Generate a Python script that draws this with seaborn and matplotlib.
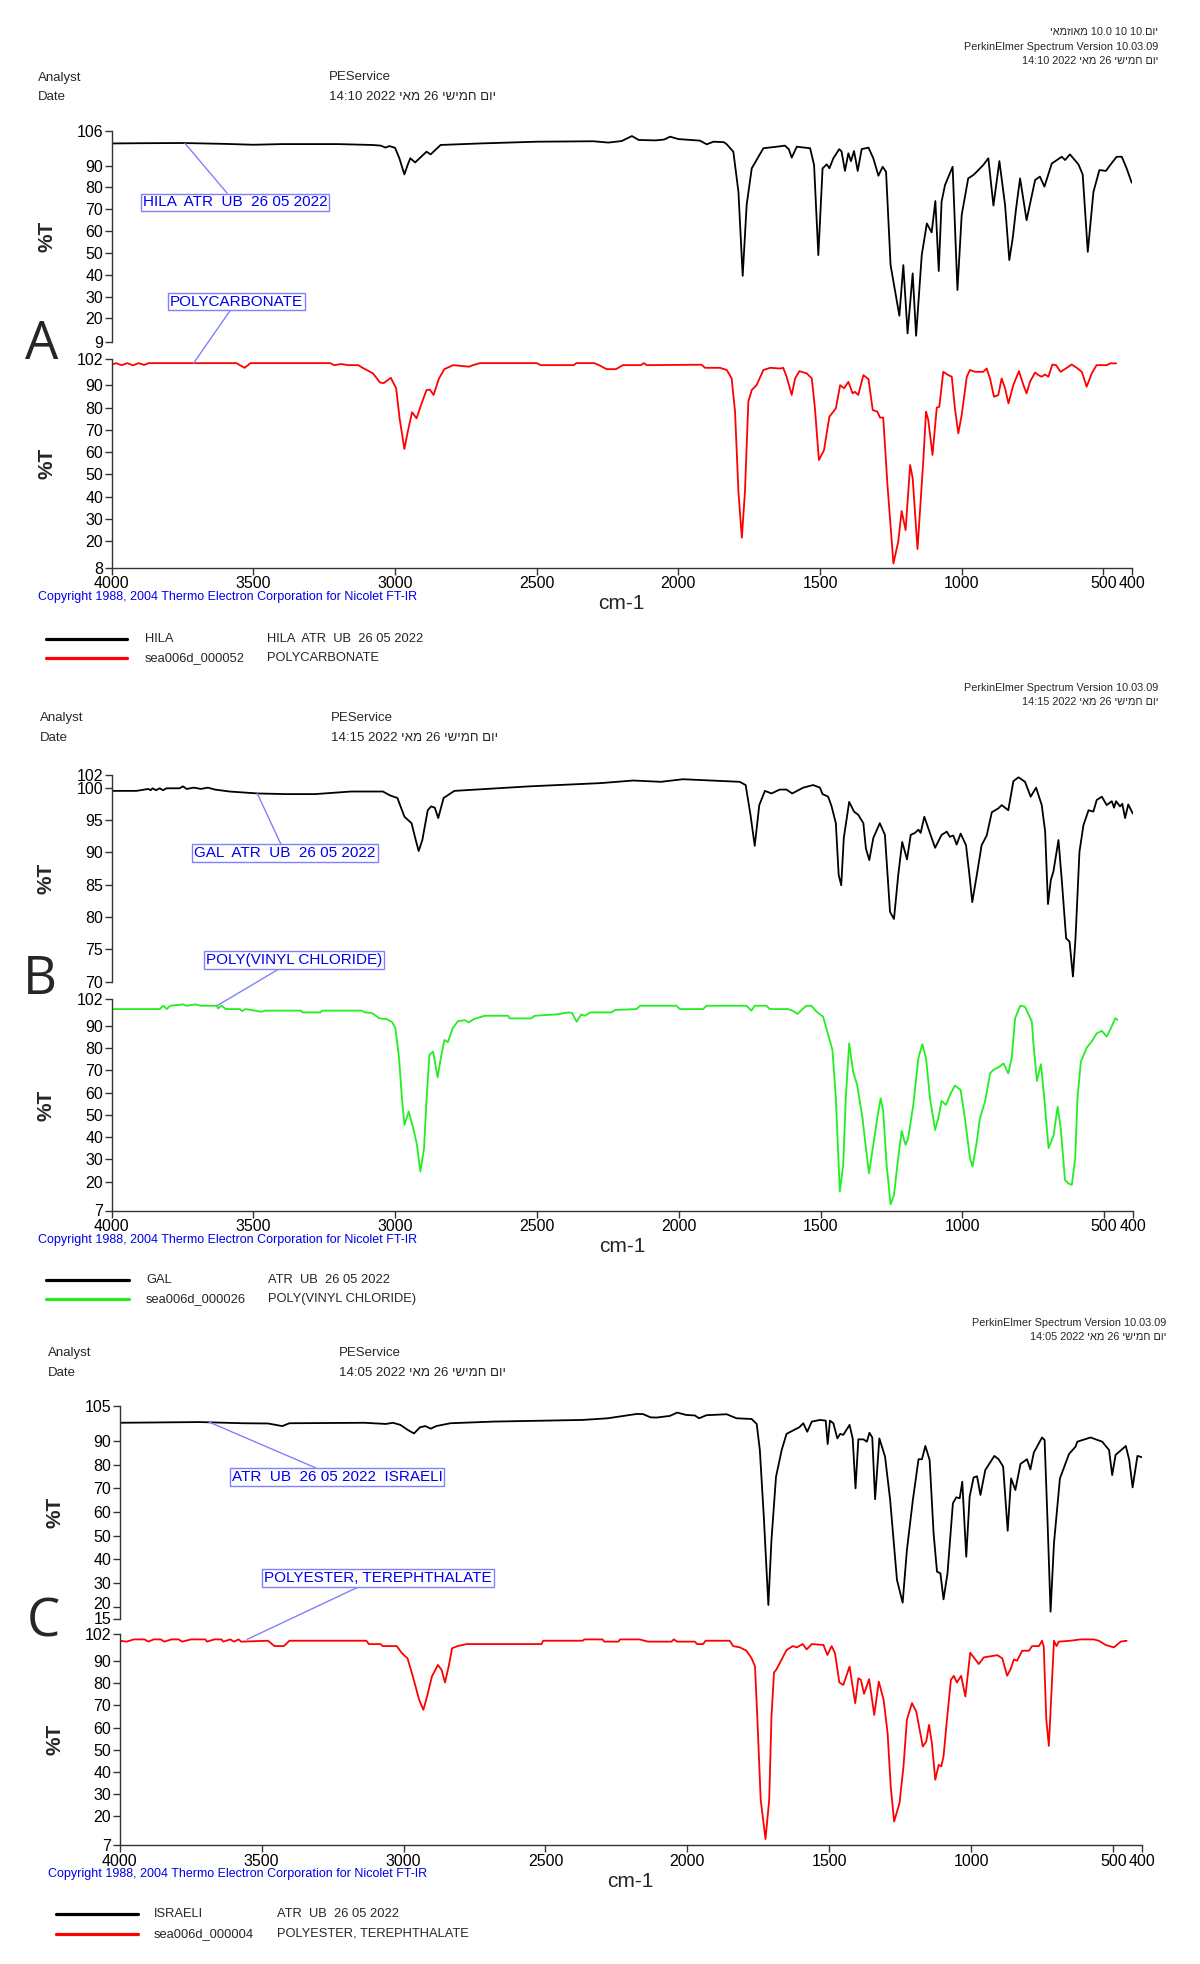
import matplotlib
matplotlib.use("Agg")
import matplotlib.pyplot as plt
from matplotlib.lines import Line2D
from matplotlib.transforms import ScaledTranslation
import seaborn as sns

# ---------------- DATA (wavenumber cm-1, %T) ----------------
XTICKS = [4000, 3500, 3000, 2500, 2000, 1500, 1000, 500, 400]

A_TOP_YTICKS = [106, 90, 80, 70, 60, 50, 40, 30, 20, 9]
A_BOT_YTICKS = [102, 90, 80, 70, 60, 50, 40, 30, 20, 8]
B_TOP_YTICKS = [102, 100, 95, 90, 85, 80, 75, 70]
B_BOT_YTICKS = [102, 90, 80, 70, 60, 50, 40, 30, 20, 7]
C_TOP_YTICKS = [105, 90, 80, 70, 60, 50, 40, 30, 20, 15]
C_BOT_YTICKS = [102, 90, 80, 70, 60, 50, 40, 30, 20, 7]

hila_w = [4000, 3900, 3750, 3600, 3500, 3400, 3200, 3080, 3050, 3034, 3020, 3000, 2985, 2967, 2955, 2946, 2929, 2889, 2874, 2858, 2839, 2700, 2500, 2300, 2247, 2200, 2164, 2140, 2080, 2050, 2029, 2000, 1924, 1900, 1876, 1840, 1829, 1806, 1788, 1773, 1759, 1741, 1700, 1653, 1624, 1610, 1600, 1582, 1535, 1521, 1506, 1491, 1476, 1467, 1453, 1432, 1424, 1412, 1400, 1391, 1380, 1367, 1353, 1329, 1312, 1294, 1279, 1267, 1251, 1220, 1206, 1191, 1173, 1161, 1141, 1123, 1106, 1093, 1081, 1071, 1059, 1032, 1015, 1000, 977, 959, 947, 924, 906, 888, 867, 847, 832, 820, 808, 794, 771, 741, 724, 708, 682, 647, 635, 618, 588, 573, 555, 535, 514, 491, 476, 453, 435, 418, 400]
hila_t = [100.2, 100.3, 100.4, 100.0, 99.6, 99.9, 99.9, 99.5, 99.2, 98.3, 99.0, 98.2, 93.5, 86.0, 90.5, 93.4, 91.5, 96.4, 95.2, 97.2, 99.5, 100.2, 101.0, 101.2, 100.6, 101.3, 103.6, 101.8, 101.6, 102.0, 103.3, 102.2, 101.5, 99.8, 101.0, 100.8, 99.8, 96.4, 78.0, 39.5, 72.0, 88.8, 98.0, 98.7, 99.2, 97.5, 93.7, 98.7, 98.0, 90.3, 49.0, 88.8, 90.6, 88.8, 93.4, 97.6, 96.5, 87.6, 95.7, 92.1, 96.7, 87.6, 97.6, 98.3, 93.4, 85.4, 89.5, 87.2, 44.4, 21.2, 44.4, 13.1, 40.6, 12.0, 49.0, 63.5, 59.4, 73.8, 41.7, 73.5, 81.1, 89.5, 33.0, 67.4, 84.2, 85.7, 87.2, 90.3, 93.4, 71.7, 92.1, 72.0, 46.7, 56.7, 70.4, 84.2, 65.0, 83.4, 85.0, 80.4, 91.0, 94.1, 92.6, 95.2, 90.6, 86.0, 50.5, 78.0, 88.0, 87.6, 90.3, 94.1, 94.1, 88.8, 82.2]

pc_w = [4000, 3985, 3965, 3945, 3925, 3905, 3885, 3870, 3560, 3531, 3510, 3229, 3215, 3190, 3165, 3130, 3110, 3078, 3053, 3040, 3015, 2996, 2984, 2967, 2955, 2940, 2924, 2908, 2889, 2877, 2864, 2845, 2826, 2795, 2738, 2725, 2700, 2500, 2486, 2370, 2360, 2297, 2280, 2253, 2220, 2196, 2133, 2121, 2112, 1918, 1906, 1853, 1829, 1812, 1800, 1788, 1776, 1765, 1753, 1741, 1724, 1700, 1676, 1641, 1630, 1618, 1600, 1588, 1573, 1547, 1529, 1518, 1504, 1486, 1467, 1444, 1429, 1415, 1400, 1385, 1377, 1365, 1347, 1329, 1314, 1298, 1288, 1277, 1262, 1241, 1224, 1212, 1198, 1182, 1173, 1156, 1135, 1126, 1118, 1103, 1088, 1079, 1065, 1047, 1035, 1024, 1012, 1000, 982, 971, 953, 924, 912, 900, 886, 871, 859, 847, 835, 818, 798, 782, 771, 759, 741, 729, 718, 706, 694, 680, 667, 651, 629, 612, 594, 576, 559, 541, 524, 488, 476, 455]
pc_t = [99.3, 100.0, 99.1, 100.0, 99.0, 100.0, 99.2, 100.0, 100.0, 97.9, 100.0, 100.0, 99.1, 99.6, 99.1, 99.1, 97.6, 95.4, 91.3, 91.0, 93.4, 88.7, 75.2, 61.4, 69.2, 77.9, 75.2, 81.2, 87.9, 88.1, 85.7, 93.1, 97.3, 99.1, 98.4, 99.1, 100.0, 100.0, 99.1, 99.1, 100.0, 100.0, 99.1, 97.3, 97.3, 99.1, 99.1, 100.0, 99.1, 99.3, 97.9, 97.9, 96.9, 93.1, 78.2, 42.2, 21.5, 42.2, 82.7, 87.9, 90.1, 96.9, 97.9, 97.6, 97.9, 93.9, 85.7, 93.1, 96.4, 95.4, 93.1, 79.7, 56.4, 60.9, 75.9, 79.7, 90.1, 88.7, 91.6, 86.4, 87.1, 85.7, 94.6, 92.8, 78.9, 78.2, 75.5, 75.5, 45.2, 9.9, 19.7, 33.5, 24.9, 54.2, 48.2, 16.4, 57.2, 78.2, 74.4, 58.7, 80.0, 80.4, 96.1, 94.6, 93.9, 79.7, 68.4, 76.7, 93.9, 96.9, 96.1, 96.1, 97.6, 93.1, 84.9, 85.6, 93.1, 88.7, 81.9, 90.1, 96.4, 90.1, 86.4, 91.6, 95.8, 94.6, 93.9, 94.9, 93.9, 99.4, 99.1, 96.1, 97.9, 99.4, 97.9, 96.1, 89.4, 95.4, 99.1, 99.1, 99.9, 99.9]

gal_w = [4000, 3912, 3870, 3862, 3855, 3843, 3830, 3818, 3806, 3760, 3748, 3735, 3710, 3685, 3660, 3635, 3584, 3484, 3383, 3282, 3156, 3043, 3018, 2992, 2967, 2942, 2929, 2917, 2904, 2885, 2873, 2860, 2848, 2829, 2791, 2753, 2526, 2275, 2161, 2063, 1985, 1785, 1764, 1747, 1732, 1716, 1696, 1673, 1644, 1620, 1600, 1561, 1526, 1502, 1493, 1473, 1461, 1446, 1436, 1427, 1418, 1399, 1382, 1367, 1349, 1340, 1328, 1314, 1291, 1273, 1255, 1241, 1226, 1212, 1195, 1182, 1167, 1155, 1147, 1134, 1116, 1096, 1073, 1055, 1044, 1032, 1020, 1006, 987, 975, 965, 949, 932, 914, 896, 873, 861, 838, 820, 802, 779, 759, 740, 720, 708, 698, 688, 679, 661, 649, 634, 622, 610, 601, 587, 573, 555, 538, 526, 508, 491, 473, 465, 458, 444, 436, 426, 415, 399]
gal_t = [99.5, 99.5, 99.8, 99.6, 99.9, 99.6, 99.9, 99.6, 99.9, 99.9, 100.2, 99.8, 100.0, 99.8, 100.0, 99.7, 99.4, 99.1, 99.0, 99.0, 99.4, 99.4, 98.8, 98.4, 95.5, 94.5, 92.2, 90.2, 91.9, 96.5, 97.1, 96.9, 95.3, 98.4, 99.5, 99.6, 100.2, 100.7, 101.1, 100.9, 101.3, 100.9, 100.4, 95.8, 91.0, 97.3, 99.5, 99.1, 99.7, 99.7, 99.1, 100.0, 100.4, 100.0, 99.0, 98.6, 97.1, 94.5, 86.5, 84.9, 92.2, 97.8, 96.3, 95.8, 94.5, 90.6, 88.8, 92.2, 94.5, 92.7, 80.8, 79.7, 86.5, 91.6, 88.9, 92.7, 93.0, 93.5, 93.0, 95.5, 93.2, 90.7, 92.7, 93.2, 92.4, 92.6, 91.2, 92.9, 91.1, 86.5, 82.3, 86.5, 91.1, 92.6, 96.2, 96.8, 97.3, 96.5, 101.0, 101.6, 100.9, 98.6, 100.0, 97.3, 93.2, 82.0, 85.7, 87.0, 91.9, 85.5, 76.7, 76.2, 70.8, 76.7, 90.1, 94.2, 96.5, 96.3, 98.1, 98.6, 97.3, 97.9, 96.9, 97.9, 97.1, 97.5, 95.3, 97.4, 96.0]

pvc_w = [4000, 3830, 3817, 3805, 3793, 3748, 3735, 3704, 3685, 3628, 3625, 3612, 3597, 3547, 3540, 3527, 3471, 3458, 3333, 3326, 3263, 3257, 3118, 3105, 3081, 3055, 3030, 3011, 2999, 2986, 2976, 2967, 2952, 2936, 2923, 2911, 2898, 2889, 2879, 2866, 2850, 2839, 2826, 2814, 2797, 2778, 2753, 2741, 2722, 2684, 2602, 2596, 2520, 2508, 2432, 2388, 2376, 2360, 2344, 2331, 2312, 2237, 2224, 2149, 2136, 2008, 1996, 1914, 1902, 1761, 1744, 1732, 1691, 1679, 1614, 1596, 1581, 1561, 1549, 1532, 1514, 1491, 1473, 1458, 1446, 1432, 1420, 1411, 1399, 1385, 1371, 1352, 1340, 1329, 1314, 1300, 1288, 1279, 1267, 1253, 1241, 1229, 1214, 1200, 1191, 1173, 1155, 1141, 1128, 1114, 1096, 1085, 1073, 1058, 1041, 1026, 1006, 991, 973, 964, 949, 938, 920, 902, 891, 869, 855, 838, 826, 814, 796, 779, 755, 749, 737, 723, 711, 696, 678, 664, 653, 638, 626, 614, 602, 594, 582, 561, 544, 526, 508, 491, 476, 461, 453]
pvc_t = [97.6, 97.6, 99.1, 97.6, 99.1, 99.7, 99.1, 99.7, 99.1, 99.1, 97.9, 99.1, 97.6, 97.6, 96.7, 97.6, 96.4, 96.9, 96.9, 96.1, 96.1, 96.9, 96.9, 96.1, 95.8, 93.4, 93.1, 91.8, 89.0, 75.5, 57.5, 45.5, 51.5, 44.0, 36.5, 24.5, 35.0, 57.5, 77.0, 78.5, 66.9, 75.5, 83.7, 82.7, 89.0, 92.2, 92.6, 91.6, 93.1, 94.6, 94.6, 93.4, 93.4, 94.6, 95.2, 96.1, 95.8, 91.9, 95.2, 94.6, 96.1, 96.1, 97.2, 97.6, 99.1, 99.1, 97.6, 97.6, 99.1, 99.1, 96.9, 99.1, 99.1, 97.6, 97.6, 96.7, 95.4, 97.9, 99.1, 99.1, 96.4, 94.2, 86.0, 79.2, 57.5, 15.5, 27.5, 57.5, 82.2, 69.5, 63.5, 48.5, 35.0, 23.7, 36.5, 48.5, 57.5, 51.5, 27.5, 9.8, 14.0, 27.5, 42.8, 36.5, 39.5, 54.5, 75.5, 81.8, 75.5, 57.5, 43.2, 48.5, 56.3, 54.5, 59.7, 63.2, 61.2, 48.5, 30.5, 26.7, 38.0, 48.5, 56.0, 68.7, 70.2, 71.7, 73.2, 68.7, 75.5, 93.4, 99.1, 98.7, 92.0, 81.5, 65.3, 72.8, 57.5, 35.0, 41.0, 53.7, 44.0, 20.7, 19.2, 18.5, 30.5, 57.5, 74.0, 80.3, 83.0, 86.7, 87.8, 85.2, 89.0, 93.5, 92.7]

isr_w = [4000, 3717, 3565, 3477, 3427, 3402, 3137, 3062, 3037, 3011, 2984, 2963, 2942, 2923, 2904, 2885, 2835, 2684, 2369, 2281, 2180, 2157, 2130, 2109, 2062, 2036, 2004, 1974, 1959, 1933, 1862, 1827, 1774, 1756, 1745, 1731, 1715, 1704, 1688, 1668, 1651, 1621, 1606, 1592, 1578, 1562, 1533, 1513, 1506, 1498, 1486, 1472, 1462, 1451, 1429, 1418, 1408, 1398, 1380, 1368, 1359, 1349, 1339, 1324, 1304, 1286, 1262, 1242, 1227, 1206, 1186, 1174, 1162, 1147, 1133, 1121, 1109, 1098, 1084, 1065, 1053, 1041, 1032, 1018, 1006, 992, 980, 968, 951, 919, 904, 888, 872, 860, 845, 827, 804, 792, 780, 751, 742, 731, 721, 709, 688, 656, 633, 627, 580, 539, 515, 504, 492, 456, 444, 432, 415, 398]
isr_t = [97.7, 98.0, 97.5, 97.4, 96.3, 97.5, 97.7, 97.2, 97.7, 96.8, 94.6, 93.2, 95.8, 96.3, 95.2, 96.3, 97.5, 98.2, 98.9, 99.6, 101.4, 101.4, 100.0, 99.9, 100.6, 102.0, 101.0, 100.8, 99.6, 100.9, 101.3, 99.6, 99.3, 97.2, 86.2, 58.0, 20.7, 48.2, 74.9, 86.2, 93.0, 94.9, 95.8, 97.5, 93.9, 98.2, 98.9, 98.6, 88.7, 98.6, 97.5, 91.1, 93.0, 92.6, 96.8, 91.1, 70.0, 90.7, 90.7, 89.7, 93.5, 91.5, 65.4, 91.1, 83.4, 65.1, 31.3, 21.7, 43.9, 65.1, 82.3, 82.3, 87.9, 82.0, 51.0, 34.8, 34.1, 23.1, 34.1, 63.7, 66.2, 65.8, 72.8, 41.1, 66.5, 74.6, 75.1, 67.2, 77.7, 83.7, 82.3, 79.2, 52.1, 74.2, 69.3, 80.3, 82.3, 78.0, 85.1, 91.5, 90.4, 53.8, 17.9, 46.8, 74.2, 84.5, 87.6, 89.7, 91.5, 89.7, 86.2, 75.6, 84.1, 87.9, 82.0, 70.4, 83.7, 83.1]

pet_w = [4000, 3975, 3950, 3912, 3899, 3880, 3855, 3843, 3817, 3792, 3780, 3748, 3698, 3692, 3666, 3641, 3635, 3610, 3597, 3581, 3572, 3477, 3455, 3421, 3402, 3131, 3122, 3080, 3074, 3024, 3005, 2986, 2967, 2945, 2930, 2917, 2900, 2879, 2866, 2854, 2841, 2829, 2810, 2791, 2778, 2514, 2508, 2369, 2363, 2299, 2293, 2243, 2237, 2168, 2139, 2056, 2048, 2036, 1974, 1966, 1945, 1936, 1851, 1839, 1815, 1792, 1774, 1762, 1754, 1742, 1725, 1712, 1704, 1695, 1686, 1668, 1651, 1629, 1615, 1594, 1580, 1562, 1521, 1507, 1492, 1480, 1465, 1451, 1429, 1409, 1398, 1389, 1378, 1360, 1342, 1326, 1309, 1295, 1284, 1272, 1253, 1239, 1227, 1209, 1194, 1171, 1159, 1149, 1139, 1127, 1115, 1106, 1098, 1086, 1072, 1062, 1051, 1036, 1021, 1004, 986, 974, 956, 909, 891, 874, 862, 850, 839, 821, 797, 786, 762, 751, 745, 736, 727, 719, 709, 700, 692, 651, 616, 569, 551, 527, 498, 474, 453]
pet_t = [99.1, 98.7, 99.7, 99.7, 98.7, 99.7, 99.7, 98.7, 99.7, 99.7, 98.7, 99.7, 99.7, 98.7, 99.7, 99.7, 98.7, 99.7, 98.7, 99.7, 98.7, 99.1, 96.7, 96.7, 99.1, 99.1, 97.6, 97.6, 96.7, 96.7, 93.4, 91.2, 83.0, 72.5, 68.0, 74.0, 83.0, 88.2, 86.0, 80.3, 87.5, 95.7, 96.7, 97.2, 97.6, 97.6, 99.1, 99.1, 99.7, 99.7, 98.7, 98.7, 99.7, 99.7, 98.7, 98.7, 99.7, 98.7, 98.7, 97.6, 97.6, 99.1, 99.1, 96.7, 96.1, 94.6, 91.2, 87.5, 65.0, 27.5, 9.8, 27.5, 65.0, 84.8, 86.3, 90.7, 94.9, 96.7, 96.1, 97.6, 95.2, 97.6, 97.2, 92.7, 96.7, 93.4, 80.3, 79.2, 87.5, 71.0, 82.2, 81.5, 75.2, 81.8, 65.7, 80.7, 72.5, 57.5, 33.5, 17.7, 26.0, 42.5, 63.5, 71.0, 67.2, 51.5, 53.7, 61.2, 53.0, 36.5, 43.2, 42.5, 47.0, 63.5, 81.5, 83.3, 80.3, 83.3, 74.0, 93.7, 90.7, 88.6, 91.6, 92.6, 91.2, 83.3, 86.3, 90.7, 90.1, 94.6, 94.6, 96.7, 96.7, 99.1, 96.4, 63.5, 51.8, 72.5, 99.1, 96.7, 98.7, 99.1, 99.7, 99.7, 99.1, 97.2, 96.1, 98.7, 99.1]

# ---------------- STYLE ----------------
sns.set_style("white")
FONT = ['Liberation Sans', 'DejaVu Sans']
plt.rcParams['font.family'] = FONT

W, H = 1200, 1964
fig = plt.figure(figsize=(W / 100, H / 100), dpi=100)

BLUE = '#0000ee'
BOXBLUE = '#8080ff'


def add_ax(l, t, r, b):
    return fig.add_axes([l / W, 1 - b / H, (r - l) / W, (b - t) / H])


def style(ax, ylim, yticks, bottom):
    ax.set_xlim(4000, 400)
    ax.set_ylim(*ylim)
    ax.set_yticks(yticks)
    ax.set_yticklabels([str(t) for t in yticks])
    ax.patch.set_alpha(0)
    ax.grid(False)
    for s in ['top', 'right']:
        ax.spines[s].set_visible(False)
    ax.spines['left'].set_color('#333333')
    ax.spines['left'].set_linewidth(1.0)
    if bottom:
        ax.set_xticks(XTICKS)
        ax.set_xticklabels([str(t) for t in XTICKS])
        ax.spines['bottom'].set_color('#333333')
        ax.spines['bottom'].set_linewidth(1.0)
    else:
        ax.spines['bottom'].set_visible(False)
        ax.set_xticks([])
    ax.tick_params(axis='both', direction='out', length=5, width=1,
                   labelsize=11.5, pad=1, color='#333333', labelcolor='black',
                   left=True, bottom=bottom)
    ax.set_xlabel('')
    ax.set_ylabel('')


def txt(x, y, s, **kw):
    kw.setdefault('va', 'center')
    kw.setdefault('ha', 'left')
    fig.text(x / W, 1 - y / H, s, **kw)


def hline(x0, x1, y, color, lw=2.3):
    fig.add_artist(Line2D([x0 / W, x1 / W], [1 - y / H, 1 - y / H],
                          transform=fig.transFigure, color=color, lw=lw))


def annot(ax, s, w, v, px, py):
    ax.annotate(s, xy=(w, v), xycoords='data', xytext=(px, H - py),
                textcoords='figure pixels', ha='center', va='center',
                fontsize=11, color=BLUE, annotation_clip=False,
                bbox=dict(boxstyle='square,pad=0.12', fc='white', ec=BOXBLUE, lw=1),
                arrowprops=dict(arrowstyle='-', color=BOXBLUE, lw=1,
                                shrinkA=0, shrinkB=0))


def spectrum(ax, w, t, color):
    sns.lineplot(x=w, y=t, ax=ax, color=color, linewidth=1.3, sort=False,
                 estimator=None, legend=False)


def panel(letter, xl, xr, top_box, bot_box, top_ylim, top_ticks, bot_ylim, bot_ticks,
          top_data, bot_data, bot_color, header, annots, legend, letter_xy,
          lift_label=None):
    axt = add_ax(xl, top_box[0], xr, top_box[1])
    axb = add_ax(xl, bot_box[0], xr, bot_box[1])
    spectrum(axt, top_data[0], top_data[1], 'black')
    spectrum(axb, bot_data[0], bot_data[1], bot_color)
    style(axt, top_ylim, top_ticks, False)
    style(axb, bot_ylim, bot_ticks, True)
    if lift_label is not None:
        for lab in axt.get_yticklabels():
            if lab.get_text() == str(lift_label):
                lab.set_transform(lab.get_transform() +
                                  ScaledTranslation(0, 4 / 100, fig.dpi_scale_trans))
    for (t, b) in (top_box, bot_box):
        txt(xl - 65, (t + b) / 2, '%T', ha='center', rotation=90,
            fontsize=15, fontweight='bold')
    # x label and copyright
    txt((xl + xr) / 2, bot_box[1] + 36, 'cm-1', ha='center', fontsize=15)
    txt(header['cx'], bot_box[1] + 29,
        'Copyright 1988, 2004 Thermo Electron Corporation for Nicolet FT-IR',
        fontsize=9, color=BLUE)
    # header
    hx, hy = header['x'], header['y']
    txt(hx, hy, 'Analyst', fontsize=9.5)
    txt(hx, hy + 20, 'Date', fontsize=9.5)
    txt(hx + 291, hy, 'PEService', fontsize=9.5)
    txt(hx + 291, hy + 20, header['date'], fontsize=9.5)
    for i, line in enumerate(header['right']):
        txt(header['rx'], header['ry'][i], line, ha='right', fontsize=7.8)
    # annotations
    (s1, w1, v1, p1x, p1y), (s2, w2, v2, p2x, p2y) = annots
    annot(axt, s1, w1, v1, p1x, p1y)
    annot(axb, s2, w2, v2, p2x, p2y)
    # legend
    lx0, lx1, c1, c2, ly = legend['lx0'], legend['lx1'], legend['c1'], legend['c2'], legend['y']
    hline(lx0, lx1, ly[0], 'black')
    hline(lx0, lx1, ly[1], bot_color)
    for i in range(2):
        txt(c1, ly[i], legend['names'][i], fontsize=9.3)
        txt(c2, ly[i], legend['descs'][i], fontsize=9.3)
    # panel letter
    txt(letter_xy[0], letter_xy[1], letter, ha='center', fontsize=38,
        family=['Open Sans', 'DejaVu Sans'])


RED = '#ff0000'
GREEN = '#22ee22'

# Panel A
panel('A', 111.7, 1131.7, (130.8, 342.3), (358.7, 567.7),
      (9, 106), A_TOP_YTICKS, (8, 102), A_BOT_YTICKS,
      (hila_w, hila_t), (pc_w, pc_t), RED,
      dict(x=38, y=77.5, cx=38,
           date='14:10 2022 יאמ 26 ישימח םוי',
           right=['יאמזואמ 10.0 10 10.םוי',
                  'PerkinElmer Spectrum Version 10.03.09',
                  '14:10 2022 יאמ 26 ישימח םוי'],
           rx=1158, ry=[32, 47, 61]),
      (('HILA  ATR  UB  26 05 2022', 3741, 100.2, 235, 202.5),
       ('POLYCARBONATE', 3711, 100.0, 236.5, 301.5)),
      dict(lx0=46, lx1=127, c1=145, c2=267, y=[639, 658],
           names=['HILA', 'sea006d_000052'],
           descs=['HILA  ATR  UB  26 05 2022', 'POLYCARBONATE']),
      (42, 345))

# Panel B
panel('B', 111.5, 1132.5, (774.7, 981.7), (999.3, 1210.5),
      (70, 102), B_TOP_YTICKS, (7, 102), B_BOT_YTICKS,
      (gal_w, gal_t), (pvc_w, pvc_t), GREEN,
      dict(x=40, y=718, cx=38,
           date='14:15 2022 יאמ 26 ישימח םוי',
           right=['PerkinElmer Spectrum Version 10.03.09',
                  '14:15 2022 יאמ 26 ישימח םוי'],
           rx=1158, ry=[688, 702]),
      (('GAL  ATR  UB  26 05 2022', 3486, 99.1, 285, 853),
       ('POLY(VINYL CHLORIDE)', 3628, 99.1, 294, 960)),
      dict(lx0=46, lx1=129, c1=146, c2=268, y=[1280, 1299],
           names=['GAL', 'sea006d_000026'],
           descs=['ATR  UB  26 05 2022', 'POLY(VINYL CHLORIDE)']),
      (40, 980))

# Panel C
panel('C', 119.6, 1141.7, (1405.5, 1618.5), (1634.3, 1845.3),
      (15, 105), C_TOP_YTICKS, (7, 102), C_BOT_YTICKS,
      (isr_w, isr_t), (pet_w, pet_t), RED,
      dict(x=48, y=1353, cx=48,
           date='14:05 2022 יאמ 26 ישימח םוי',
           right=['PerkinElmer Spectrum Version 10.03.09',
                  '14:05 2022 יאמ 26 ישימח םוי'],
           rx=1166, ry=[1323, 1337]),
      (('ATR  UB  26 05 2022  ISRAELI', 3685, 98.0, 337, 1477),
       ('POLYESTER, TEREPHTHALATE', 3551, 99.7, 378, 1577.7)),
      dict(lx0=56, lx1=138, c1=154, c2=277, y=[1914, 1934],
           names=['ISRAELI', 'sea006d_000004'],
           descs=['ATR  UB  26 05 2022', 'POLYESTER, TEREPHTHALATE']),
      (43, 1623), lift_label=20)

fig.savefig('out.png', dpi=100, facecolor='white')
